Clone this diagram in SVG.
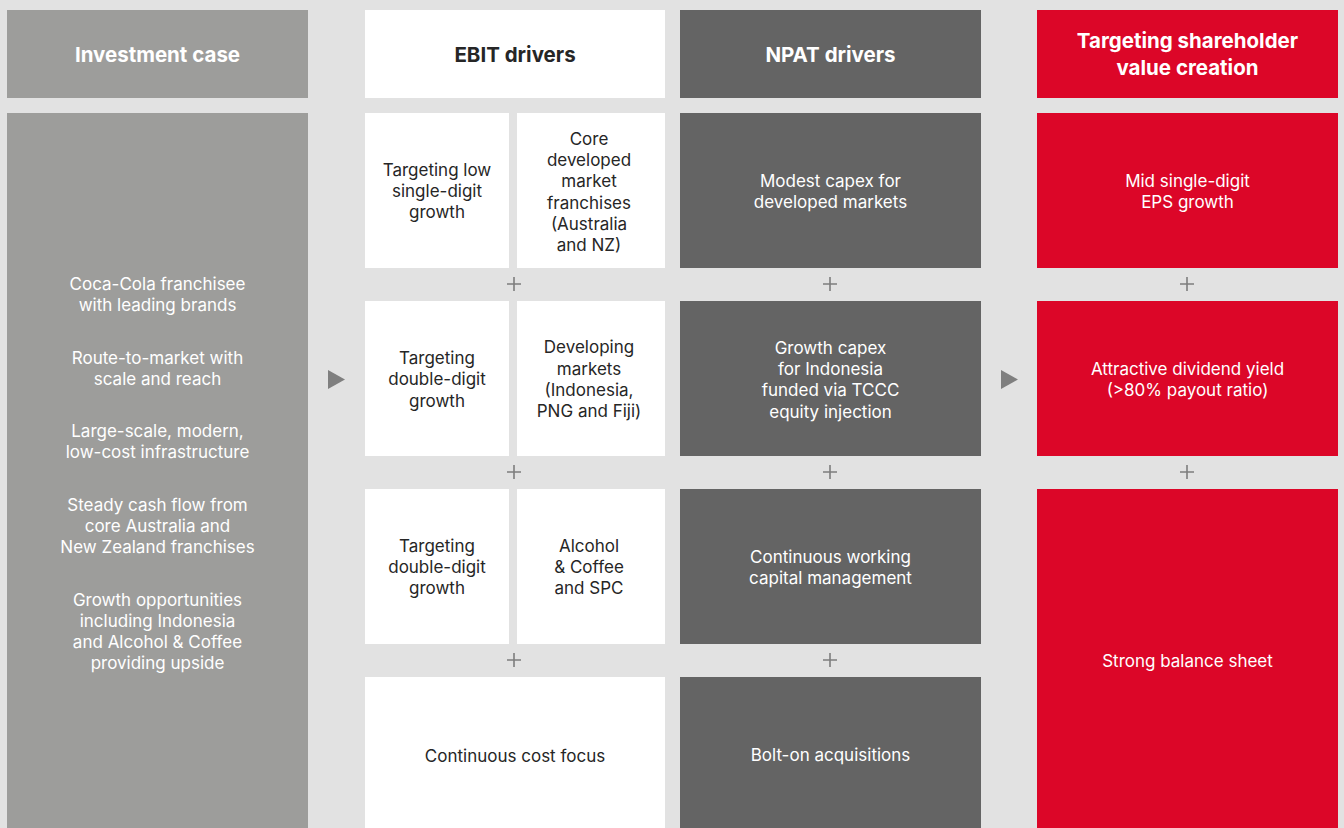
<svg xmlns="http://www.w3.org/2000/svg" width="1344" height="828" viewBox="0 0 1344 828">
<style>
text{font-family:"Inter","Liberation Sans",sans-serif;font-size:17px;text-anchor:middle}
.h{font-size:20.5px;font-weight:700}
.w{fill:#ffffff}
.d{fill:#262626}
.g1{fill:#9d9d9b}
.wh{fill:#ffffff}
.dk{fill:#646464}
.rd{fill:#dc0628}
.plus{stroke:#7d7d7d;stroke-width:1.6;fill:none}
.arr{fill:#7f7f7f}
</style>
<rect width="1344" height="828" fill="#e2e2e2"/>
<g id="investment-header"><rect class="g1" x="7" y="10" width="301" height="88"/><text class="h w" x="157.5" y="62">Investment case</text></g>
<g id="ebit-header"><rect class="wh" x="365" y="10" width="300" height="88"/><text class="h d" x="515" y="62">EBIT drivers</text></g>
<g id="npat-header"><rect class="dk" x="680" y="10" width="301" height="88"/><text class="h w" x="830.5" y="62">NPAT drivers</text></g>
<g id="value-header"><rect class="rd" x="1037" y="10" width="301" height="88"/><text class="h w" x="1187.5" y="48">Targeting shareholder</text><text class="h w" x="1187.5" y="75">value creation</text></g>
<g id="investment-body"><rect class="g1" x="7" y="113" width="301" height="715"/>
<text class="w" x="157.5" y="290">Coca-Cola franchisee</text><text class="w" x="157.5" y="311">with leading brands</text>
<text class="w" x="157.5" y="364">Route-to-market with</text><text class="w" x="157.5" y="385">scale and reach</text>
<text class="w" x="157.5" y="437">Large-scale, modern,</text><text class="w" x="157.5" y="458">low-cost infrastructure</text>
<text class="w" x="157.5" y="511">Steady cash flow from</text><text class="w" x="157.5" y="532">core Australia and</text><text class="w" x="157.5" y="553">New Zealand franchises</text>
<text class="w" x="157.5" y="606">Growth opportunities</text><text class="w" x="157.5" y="627">including Indonesia</text><text class="w" x="157.5" y="648">and Alcohol &amp; Coffee</text><text class="w" x="157.5" y="669">providing upside</text>
</g>
<g id="ebit-1a"><rect class="wh" x="365" y="113" width="144" height="155"/><text class="d" x="437" y="176">Targeting low</text><text class="d" x="437" y="197">single-digit</text><text class="d" x="437" y="218">growth</text></g>
<g id="ebit-1b"><rect class="wh" x="517" y="113" width="148" height="155"/><text class="d" x="589" y="145">Core</text><text class="d" x="589" y="166">developed</text><text class="d" x="589" y="187">market</text><text class="d" x="589" y="209">franchises</text><text class="d" x="589" y="230">(Australia</text><text class="d" x="589" y="251">and NZ)</text></g>
<g id="ebit-2a"><rect class="wh" x="365" y="301" width="144" height="155"/><text class="d" x="437" y="364">Targeting</text><text class="d" x="437" y="385">double-digit</text><text class="d" x="437" y="407">growth</text></g>
<g id="ebit-2b"><rect class="wh" x="517" y="301" width="148" height="155"/><text class="d" x="589" y="353">Developing</text><text class="d" x="589" y="375">markets</text><text class="d" x="589" y="396">(Indonesia,</text><text class="d" x="589" y="417">PNG and Fiji)</text></g>
<g id="ebit-3a"><rect class="wh" x="365" y="489" width="144" height="155"/><text class="d" x="437" y="552">Targeting</text><text class="d" x="437" y="573">double-digit</text><text class="d" x="437" y="594">growth</text></g>
<g id="ebit-3b"><rect class="wh" x="517" y="489" width="148" height="155"/><text class="d" x="589" y="552">Alcohol</text><text class="d" x="589" y="573">&amp; Coffee</text><text class="d" x="589" y="594">and SPC</text></g>
<g id="ebit-4"><rect class="wh" x="365" y="677" width="300" height="151"/><text class="d" x="515" y="762">Continuous cost focus</text></g>
<g id="npat-1"><rect class="dk" x="680" y="113" width="301" height="155"/><text class="w" x="830.5" y="187">Modest capex for</text><text class="w" x="830.5" y="208">developed markets</text></g>
<g id="npat-2"><rect class="dk" x="680" y="301" width="301" height="155"/><text class="w" x="830.5" y="354">Growth capex</text><text class="w" x="830.5" y="375">for Indonesia</text><text class="w" x="830.5" y="396">funded via TCCC</text><text class="w" x="830.5" y="418">equity injection</text></g>
<g id="npat-3"><rect class="dk" x="680" y="489" width="301" height="155"/><text class="w" x="830.5" y="563">Continuous working</text><text class="w" x="830.5" y="584">capital management</text></g>
<g id="npat-4"><rect class="dk" x="680" y="677" width="301" height="151"/><text class="w" x="830.5" y="761">Bolt-on acquisitions</text></g>
<g id="value-1"><rect class="rd" x="1037" y="113" width="301" height="155"/><text class="w" x="1187.5" y="187">Mid single-digit</text><text class="w" x="1187.5" y="208">EPS growth</text></g>
<g id="value-2"><rect class="rd" x="1037" y="301" width="301" height="155"/><text class="w" x="1187.5" y="375">Attractive dividend yield</text><text class="w" x="1187.5" y="396">(&gt;80% payout ratio)</text></g>
<g id="value-3"><rect class="rd" x="1037" y="489" width="301" height="339"/><text class="w" x="1187.5" y="667">Strong balance sheet</text></g>
<g id="connectors">
<path class="plus" d="M507 284h14M514 277v14M823 284h14M830 277v14M1180 284h14M1187 277v14"/>
<path class="plus" d="M507 472h14M514 465v14M823 472h14M830 465v14M1180 472h14M1187 465v14"/>
<path class="plus" d="M507 660h14M514 653v14M823 660h14M830 653v14"/>
<path class="arr" d="M328 370L345 379.5L328 389Z"/>
<path class="arr" d="M1001 370L1018 379.5L1001 389Z"/>
</g>
</svg>
